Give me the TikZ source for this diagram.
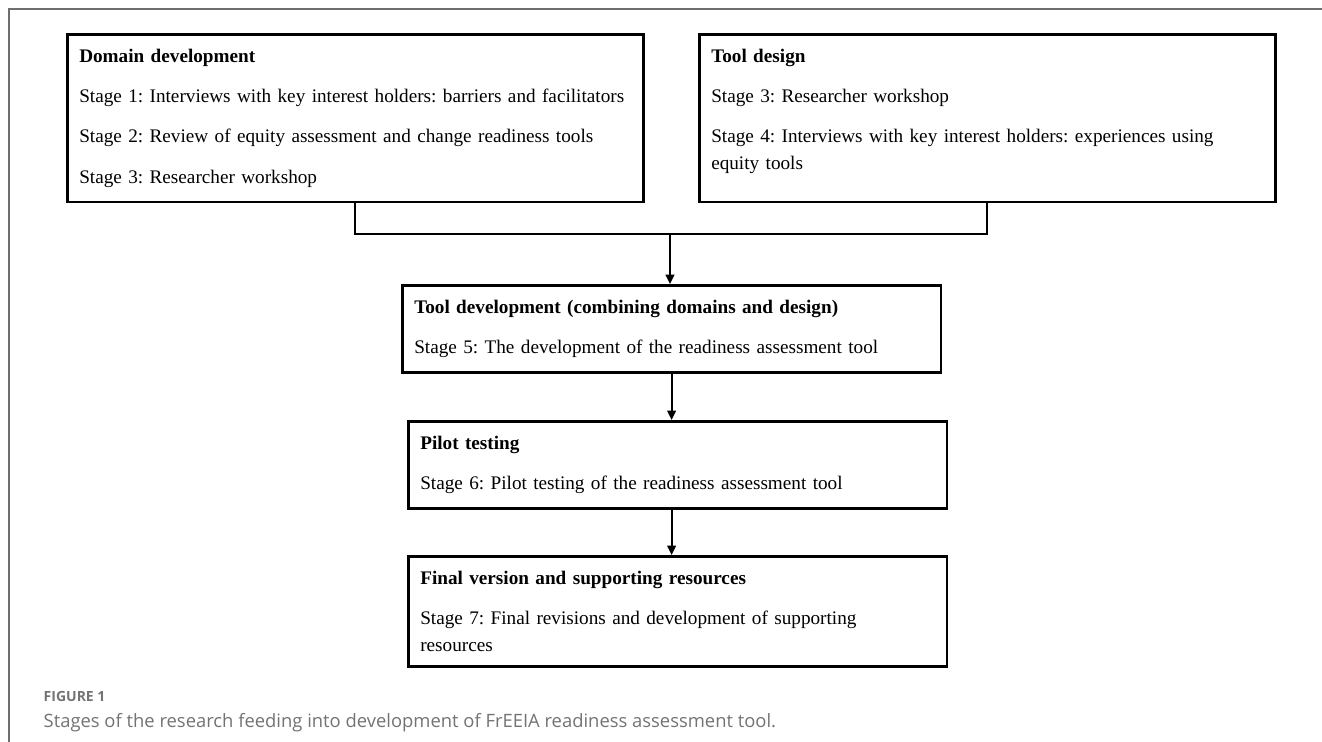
\documentclass[tikz,border=0pt]{standalone}
\usepackage{fontspec}
\setmainfont{Liberation Serif}
\newfontfamily\capfont{Open Sans}
\usetikzlibrary{arrows.meta}

\definecolor{framegray}{HTML}{6E6E6E}
\definecolor{capgray}{HTML}{737373}

\tikzset{
  stagebox/.style={draw, line width=1.9pt, anchor=north west,
    inner xsep=9pt, inner ysep=11pt, align=left,
    font=\fontsize{14.4}{20.25}\selectfont,
    execute at begin node={\frenchspacing\hyphenpenalty=10000\exhyphenpenalty=10000%
      \setlength{\parskip}{10pt}\setlength{\parindent}{0pt}}},
  link/.style={line width=1.4pt},
  tip/.style={-{Triangle[length=7pt,width=6.5pt]}}
}

\begin{document}
\begin{tikzpicture}[x=0.75pt, y=-0.75pt]
    \useasboundingbox (0,0) rectangle (1322,742) ;
    \draw [framegray, line width=1.1pt] (9,742) -- (9,9) -- (1322,9) ;
    % the two top blocks
    \node [stagebox, text width=414pt] (domain) at (66,33)
      {\textbf{Domain development}\par
       \mbox{Stage 1: Interviews with key interest holders: barriers and facilitators}\par
       Stage 2: Review of equity assessment and change readiness tools\par
       Stage 3: Researcher workshop} ;
    \node [stagebox, text width=414pt] (design) at (698,33)
      {\textbf{Tool design}\par
       Stage 3: Researcher workshop\par
       Stage 4: Interviews with key interest holders: experiences using equity tools\par
       \nointerlineskip\vbox to 10pt{}} ;
    % the chain below
    \node [stagebox, text width=386pt] (develop) at (401,284)
      {\textbf{Tool development (combining domains and design)}\par
       Stage 5: The development of the readiness assessment tool} ;
    \node [stagebox, text width=386pt] (pilot) at (407,420)
      {\textbf{Pilot testing}\par
       Stage 6: Pilot testing of the readiness assessment tool} ;
    \node [stagebox, text width=386pt] (final) at (407,555)
      {\textbf{Final version and supporting resources}\par
       Stage 7: Final revisions and development of supporting resources} ;
    \coordinate (merge) at (670,234) ;
    \draw [link] (domain.south) |- (merge) -| (design.south) ;
    \draw [link, tip] (merge) -- (merge |- develop.north) ;
    \draw [link, tip] (develop.south) -- (develop.south |- pilot.north) ;
    \draw [link, tip] (develop.south |- pilot.south) -- (develop.south |- final.north) ;
    % caption
    \node [anchor=base west, capgray, font=\capfont\bfseries\fontsize{10.5}{12}\selectfont]
      (figlabel) at (39,701) {FIGURE 1} ;
    \node [anchor=base west, capgray, font=\capfont\fontsize{13.8}{16}\selectfont]
      (figcaption) at (39,727)
      {Stages of the research feeding into development of FrEEIA readiness assessment tool.} ;
  \end{tikzpicture}
\end{document}
